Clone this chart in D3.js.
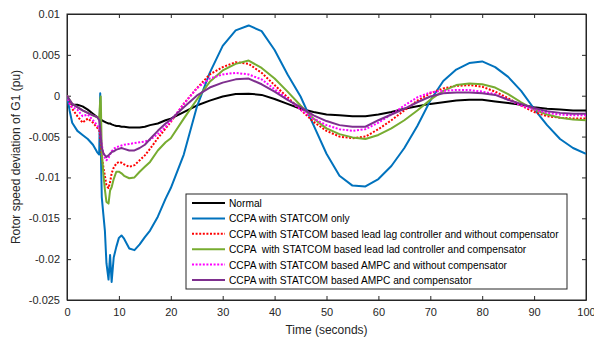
<!DOCTYPE html>
<html>
<head>
<meta charset="utf-8">
<script src="https://cdn.jsdelivr.net/npm/d3@7"></script>
<style>
  body { margin: 0; background: #fff; }
  svg { font-family: "Liberation Sans", Arial, sans-serif; }
  .axis text { fill: #262626; font-size: 11px; }
  .axis path, .axis line { stroke: #262626; }
</style>
</head>
<body>
<div id="chart"></div>
<script>
// time grid (seconds)
const time = [0, 0.5, 1, 2, 3, 4, 5, 5.8, 6.2, 6.4, 6.5, 6.7, 7, 7.3, 7.6, 8, 8.3, 8.6, 9, 9.5, 10, 10.5, 11, 12, 13, 14, 15, 16, 17.5, 19, 20,
  22.5, 25, 27.5, 30, 32.5, 35, 37.5, 40, 42.5, 45, 47.5, 50, 52.5, 55, 57.5, 60, 62.5, 65, 67.5, 70, 72.5, 75, 77.5, 80, 82.5, 85, 87.5, 90, 92.5, 95, 97.5, 100];

const normal = [0, -0.0008, -0.0011, -0.0011, -0.0013, -0.0017, -0.0022, -0.0026, -0.0028, -0.0029, -0.0029, -0.003, -0.0031, -0.0032, -0.0033, -0.0034, -0.0034, -0.0035, -0.0036, -0.0037, -0.0037, -0.0038, -0.0038, -0.0039, -0.0039, -0.0039, -0.0038, -0.0036, -0.0034, -0.003, -0.0028,
  -0.002, -0.0012, -0.0006, -0.0001, 0.0002, 0.00025, 0.0001, -0.0004, -0.001, -0.0016, -0.002, -0.0023, -0.0024, -0.0025, -0.0025, -0.0023, -0.002, -0.0016, -0.0013, -0.001, -0.0008, -0.0006, -0.0005, -0.0005, -0.0007, -0.0009, -0.0011, -0.0014, -0.0016, -0.0017, -0.0018, -0.0018];

const statcomOnly = [0, -0.0018, -0.0033, -0.0043, -0.0048, -0.0053, -0.006, -0.0069, -0.0072, 0.0003, -0.006, -0.0124, -0.0145, -0.0165, -0.0205, -0.0225, -0.0195, -0.0228, -0.0198, -0.0185, -0.0174, -0.0171, -0.0175, -0.0187, -0.0189, -0.0182, -0.0173, -0.0165, -0.0148, -0.0126, -0.0113,
  -0.0072, -0.0014, 0.0028, 0.0061, 0.008, 0.0086, 0.0079, 0.0056, 0.0026, -0.0001, -0.0036, -0.0071, -0.0098, -0.011, -0.0111, -0.0102, -0.0086, -0.0064, -0.0037, -0.0006, 0.0018, 0.0032, 0.004, 0.0042, 0.0035, 0.0023, 0.0006, -0.0016, -0.0036, -0.0053, -0.0064, -0.0071];

const leadLagNoComp = [0, -0.0008, -0.0016, -0.0025, -0.0033, -0.0028, -0.0033, -0.0039, -0.0042, -0.005, -0.006, -0.0075, -0.0087, -0.0098, -0.011, -0.0113, -0.0106, -0.0095, -0.0088, -0.0083, -0.0081, -0.0082, -0.0084, -0.0087, -0.0085, -0.0079, -0.0073, -0.0065, -0.0052, -0.004, -0.0032,
  -0.001, 0.0009, 0.0026, 0.0035, 0.0041, 0.0039, 0.0028, 0.0013, -0.0002, -0.0017, -0.0032, -0.0043, -0.005, -0.0052, -0.005, -0.0041, -0.003, -0.0018, -0.0006, 0.0003, 0.0009, 0.0012, 0.0013, 0.0011, 0.0005, -0.0003, -0.0012, -0.002, -0.0025, -0.0027, -0.0028, -0.0028];

const leadLagComp = [0, -0.0005, -0.001, -0.0014, -0.0018, -0.0021, -0.0024, -0.0026, -0.0028, -0.0005, -0.0001, -0.0069, -0.0095, -0.0115, -0.013, -0.0132, -0.0116, -0.0112, -0.0102, -0.0093, -0.0093, -0.0095, -0.0098, -0.0101, -0.01, -0.0093, -0.0087, -0.0081, -0.0067, -0.0057, -0.0052,
  -0.0028, -0.0005, 0.0017, 0.0031, 0.0039, 0.0043, 0.0034, 0.0021, 0.0005, -0.0012, -0.0028, -0.004, -0.0047, -0.0051, -0.0053, -0.0048, -0.004, -0.003, -0.0018, -0.0005, 0.0006, 0.0013, 0.0015, 0.0014, 0.001, 0.0002, -0.0008, -0.0017, -0.0023, -0.0027, -0.0029, -0.003];

const ampcNoComp = [0, -0.001, -0.0014, -0.0017, -0.0025, -0.0023, -0.003, -0.0036, -0.004, -0.0045, -0.005, -0.006, -0.0071, -0.0076, -0.0079, -0.0076, -0.0072, -0.0068, -0.0065, -0.0063, -0.0062, -0.0061, -0.006, -0.0059, -0.0058, -0.0057, -0.0056, -0.0054, -0.0047, -0.0038, -0.0031,
  -0.001, 0.0009, 0.0021, 0.0026, 0.0028, 0.0026, 0.002, 0.0008, -0.0004, -0.0017, -0.0028, -0.0036, -0.0041, -0.0043, -0.0041, -0.0033, -0.0023, -0.0012, -0.0002, 0.0004, 0.0006, 0.0007, 0.0007, 0.0005, 0.0002, -0.0005, -0.0012, -0.0017, -0.0021, -0.0023, -0.0024, -0.0024];

const ampcComp = [0, -0.0005, -0.001, -0.0014, -0.0018, -0.0021, -0.0024, -0.0026, -0.003, -0.004, -0.005, -0.0063, -0.007, -0.0073, -0.0075, -0.0073, -0.0071, -0.0069, -0.0068, -0.0066, -0.0065, -0.0064, -0.0065, -0.0067, -0.0067, -0.0064, -0.006, -0.0053, -0.0043, -0.0034, -0.0029,
  -0.0014, 0, 0.001, 0.0016, 0.002, 0.0021, 0.0014, 0.0005, -0.0005, -0.0014, -0.0024, -0.0031, -0.0036, -0.0038, -0.0038, -0.003, -0.0023, -0.0016, -0.0008, -0.0001, 0.0003, 0.0004, 0.0004, 0.0003, 0.0001, -0.0005, -0.001, -0.0015, -0.0019, -0.0021, -0.0022, -0.0022];

const xTicks = [0, 10, 20, 30, 40, 50, 60, 70, 80, 90, 100];
const yTicks = [0.01, 0.005, 0, -0.005, -0.01, -0.015, -0.02, -0.025];
const yTickLabels = ["0.01", "0.005", "0", "-0.005", "-0.01", "-0.015", "-0.02", "-0.025"];

const series = [
  {name: "Normal", values: normal, color: "#000000", dash: null},
  {name: "CCPA with STATCOM only", values: statcomOnly, color: "#0072BD", dash: null},
  {name: "CCPA with STATCOM based lead lag controller and without compensator", values: leadLagNoComp, color: "#FF0000", dash: "2,1.6"},
  {name: "CCPA  with STATCOM based lead lad controller and compensator", values: leadLagComp, color: "#77AC30", dash: null},
  {name: "CCPA with STATCOM based AMPC and without compensator", values: ampcNoComp, color: "#FF00FF", dash: "2,1.6"},
  {name: "CCPA with STATCOM based AMPC and compensator", values: ampcComp, color: "#7E2F8E", dash: null}
];

const WIDTH = 594, HEIGHT = 339;
const margin = {top: 14, right: 8, bottom: 39, left: 67};
const width = WIDTH - margin.left - margin.right;
const height = HEIGHT - margin.top - margin.bottom;

const svg = d3.select("#chart").append("svg")
  .attr("width", WIDTH).attr("height", HEIGHT);

const g = svg.append("g")
  .attr("transform", "translate(" + margin.left + "," + margin.top + ")");

const x = d3.scaleLinear().domain([0, 100]).range([0, width]);
const y = d3.scaleLinear().domain([-0.025, 0.01]).range([height, 0]);

// axes, MATLAB style: ticks inside, box all round
g.append("g").attr("class", "axis")
  .attr("transform", "translate(0," + height + ")")
  .call(d3.axisBottom(x).tickValues(xTicks).tickSizeInner(-4).tickSizeOuter(0).tickPadding(8));
g.append("g").attr("class", "axis")
  .call(d3.axisTop(x).tickValues(xTicks).tickSizeInner(-4).tickSizeOuter(0).tickFormat(""));
g.append("g").attr("class", "axis")
  .call(d3.axisLeft(y).tickValues(yTicks).tickSizeInner(-4).tickSizeOuter(0).tickPadding(7)
    .tickFormat((d, i) => yTickLabels[i]));
g.append("g").attr("class", "axis")
  .attr("transform", "translate(" + width + ",0)")
  .call(d3.axisRight(y).tickValues(yTicks).tickSizeInner(-4).tickSizeOuter(0).tickFormat(""));

g.append("rect")
  .attr("width", width).attr("height", height)
  .attr("fill", "none").attr("stroke", "#262626").attr("stroke-width", 1);

// lines
const line = d3.line()
  .x((d, i) => x(time[i]))
  .y(d => y(d));

g.append("defs").append("clipPath").attr("id", "clip")
  .append("rect").attr("width", width).attr("height", height);

const plot = g.append("g").attr("clip-path", "url(#clip)");
series.forEach(s => {
  plot.append("path")
    .datum(s.values)
    .attr("d", line)
    .attr("fill", "none")
    .attr("stroke", s.color)
    .attr("stroke-width", 2)
    .attr("stroke-linejoin", "round")
    .attr("stroke-dasharray", s.dash);
});

// axis titles
svg.append("text")
  .attr("x", margin.left + x(50)).attr("y", 334)
  .attr("text-anchor", "middle")
  .attr("font-size", 12).attr("fill", "#262626")
  .text("Time (seconds)");

svg.append("text")
  .attr("transform", "translate(20," + (margin.top + y(-0.0075)) + ") rotate(-90)")
  .attr("text-anchor", "middle")
  .attr("font-size", 12).attr("fill", "#262626")
  .text("Rotor speed deviation of G1 (pu)");

// legend
const legend = svg.append("g").attr("transform", "translate(186,194)");
legend.append("rect")
  .attr("width", 381).attr("height", 95)
  .attr("fill", "#fff").attr("stroke", "#262626").attr("stroke-width", 1);

series.forEach((s, i) => {
  const ly = 9 + i * 15.4;
  legend.append("line")
    .attr("x1", 6).attr("x2", 39).attr("y1", ly).attr("y2", ly)
    .attr("stroke", s.color).attr("stroke-width", 2)
    .attr("stroke-dasharray", s.dash);
  legend.append("text")
    .attr("x", 43).attr("y", ly + 4)
    .attr("font-size", 10.2).attr("fill", "#000")
    .style("white-space", "pre")
    .text(s.name);
});
</script>
</body>
</html>
